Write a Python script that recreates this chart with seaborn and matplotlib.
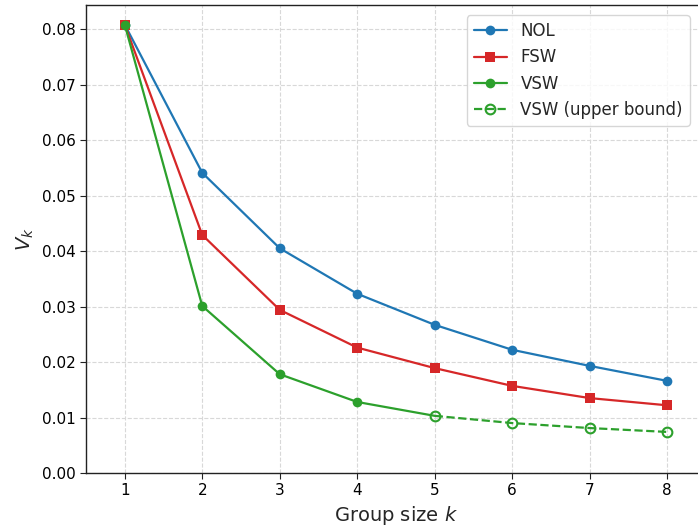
import matplotlib
matplotlib.use("Agg")
import matplotlib.pyplot as plt
import seaborn as sns
import pandas as pd

k = [1, 2, 3, 4, 5, 6, 7, 8]
nol = [0.0808, 0.0541, 0.0405, 0.0323, 0.0267, 0.0222, 0.0193, 0.0166]
fsw = [0.0808, 0.0429, 0.0294, 0.0226, 0.0189, 0.0157, 0.0135, 0.0122]
vsw_k = [1, 2, 3, 4, 5]
vsw = [0.0808, 0.0301, 0.0178, 0.0128, 0.0103]
vub_k = [5, 6, 7, 8]
vub = [0.0103, 0.0090, 0.0081, 0.0074]

sns.set_style("white")
fig = plt.figure(figsize=(6.98, 5.29), dpi=100)
ax = fig.add_axes([86/698, 56/529, 620/698, 468.3/529])

sns.lineplot(x=k, y=nol, ax=ax, color="tab:blue", marker="o", markersize=7,
             markeredgewidth=0, linewidth=1.6, label="NOL")
sns.lineplot(x=k, y=fsw, ax=ax, color="tab:red", marker="s", markersize=7,
             markeredgewidth=0, linewidth=1.6, label="FSW")
sns.lineplot(x=vsw_k, y=vsw, ax=ax, color="tab:green", marker="o", markersize=7,
             markeredgewidth=0, linewidth=1.6, label="VSW", markevery=[0, 1, 2, 3])
sns.lineplot(x=vub_k, y=vub, ax=ax, color="tab:green", marker="o", markersize=7,
             markerfacecolor="none", markeredgecolor="tab:green", markeredgewidth=1.5,
             linewidth=1.6, linestyle="--", label="VSW (upper bound)")

ax.set_xlim(0.5, 8.5)
ax.set_ylim(0, 0.0844)
ax.set_xticks(k)
yt = [0, 0.01, 0.02, 0.03, 0.04, 0.05, 0.06, 0.07, 0.08]
ax.set_yticks(yt)
ax.set_yticklabels([f"{v:.2f}" for v in yt])
ax.tick_params(axis="both", labelsize=11, length=4, direction="out", left=True, bottom=True,
               colors="#222222", labelcolor="black")
ax.grid(True, linestyle="--", color="#d8d8d8", linewidth=0.8)
ax.set_xlabel("Group size $k$", fontsize=14)
ax.set_ylabel("$V_k$", fontsize=14)
for s in ax.spines.values():
    s.set_color("#222222")
    s.set_linewidth(1.0)
ax.legend(loc="upper right", bbox_to_anchor=(0.987, 0.995), fontsize=12, frameon=True,
          handlelength=2, borderpad=0.4, labelspacing=0.5)

fig.savefig("out.png", dpi=100)
